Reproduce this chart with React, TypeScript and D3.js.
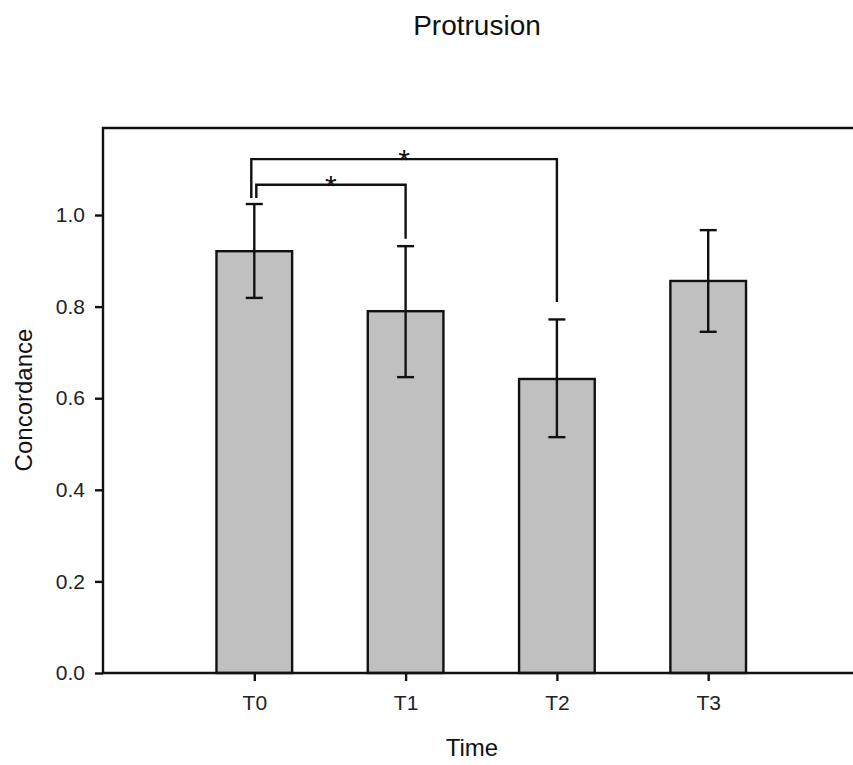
import React, { useRef, useEffect } from "react";
import * as d3 from "d3";

const categories = ["T0", "T1", "T2", "T3"];
const means = [0.921, 0.79, 0.642, 0.856];
const upperErr = [1.024, 0.932, 0.772, 0.967];
const lowerErr = [0.819, 0.646, 0.515, 0.745];
const yTicks = [0, 0.2, 0.4, 0.6, 0.8, 1.0];

// significance brackets: category indexes, bar level and where each leg stops
const bracketFrom = [0, 0];
const bracketTo = [1, 2];
const bracketLevel = [1.066, 1.122];
const bracketLeftEnd = [1.037, 1.037];
const bracketRightEnd = [0.948, 0.81];
const bracketLabel = ["*", "*"];

const FONT = "'Liberation Sans', Arial, Helvetica, sans-serif";

const App = () => {
  const svgRef = useRef<SVGSVGElement>(null);

  useEffect(() => {
    document.body.style.margin = "0";
    const width = 853;
    const height = 765;
    const margin = { top: 128, left: 103, bottom: 92 };
    const plotRight = 859.5;
    const plotBottom = height - margin.bottom;
    const sw = 2.4;

    d3.select(svgRef.current).selectAll("*").remove();
    const svg = d3
      .select(svgRef.current)
      .attr("width", width)
      .attr("height", height)
      .style("background", "#fff");

    const x = d3
      .scaleLinear()
      .domain([0, categories.length + 1])
      .range([margin.left, plotRight]);
    const y = d3.scaleLinear().domain([0, 1.19]).range([plotBottom, margin.top]);
    const step = x(1) - x(0);
    const barW = step * 0.5;

    // bars
    svg
      .selectAll(".bar")
      .data(means)
      .enter()
      .append("rect")
      .attr("class", "bar")
      .attr("x", (d, i) => x(i + 1) - barW / 2)
      .attr("y", (d) => y(d))
      .attr("width", barW)
      .attr("height", (d) => plotBottom - y(d))
      .attr("fill", "#c0c0c0")
      .attr("stroke", "#111")
      .attr("stroke-width", sw);

    // error bars
    const capW = 17;
    const eb = svg
      .selectAll(".err")
      .data(categories)
      .enter()
      .append("g")
      .attr("class", "err")
      .attr("stroke", "#111")
      .attr("stroke-width", sw);
    eb.append("line")
      .attr("x1", (d, i) => x(i + 1))
      .attr("x2", (d, i) => x(i + 1))
      .attr("y1", (d, i) => y(lowerErr[i]))
      .attr("y2", (d, i) => y(upperErr[i]));
    eb.append("line")
      .attr("x1", (d, i) => x(i + 1) - capW / 2)
      .attr("x2", (d, i) => x(i + 1) + capW / 2)
      .attr("y1", (d, i) => y(upperErr[i]))
      .attr("y2", (d, i) => y(upperErr[i]));
    eb.append("line")
      .attr("x1", (d, i) => x(i + 1) - capW / 2)
      .attr("x2", (d, i) => x(i + 1) + capW / 2)
      .attr("y1", (d, i) => y(lowerErr[i]))
      .attr("y2", (d, i) => y(lowerErr[i]));

    // frame: left, top, bottom
    svg
      .append("path")
      .attr(
        "d",
        `M${plotRight},${margin.top}H${margin.left}V${plotBottom}H${plotRight}`
      )
      .attr("fill", "none")
      .attr("stroke", "#111")
      .attr("stroke-width", sw);

    // axes
    const yAxis = d3
      .axisLeft(y)
      .tickValues(yTicks)
      .tickFormat(d3.format(".1f"))
      .tickSizeInner(8)
      .tickSizeOuter(0)
      .tickPadding(10);
    const gy = svg
      .append("g")
      .attr("transform", `translate(${margin.left},0)`)
      .call(yAxis);
    gy.select(".domain").remove();
    gy.selectAll("line").attr("stroke", "#111").attr("stroke-width", sw);
    gy.selectAll("text")
      .attr("font-family", FONT)
      .attr("font-size", 21)
      .attr("fill", "#222");

    const xAxis = d3
      .axisBottom(x)
      .tickValues(categories.map((c, i) => i + 1))
      .tickFormat((d) => categories[(d as number) - 1])
      .tickSizeInner(8)
      .tickSizeOuter(0)
      .tickPadding(14);
    const gx = svg
      .append("g")
      .attr("transform", `translate(0,${plotBottom})`)
      .call(xAxis);
    gx.select(".domain").remove();
    gx.selectAll("line").attr("stroke", "#111").attr("stroke-width", sw);
    gx.selectAll("text")
      .attr("font-family", FONT)
      .attr("font-size", 21)
      .attr("fill", "#222");

    // significance brackets
    const br = svg
      .selectAll(".bracket")
      .data(bracketLevel)
      .enter()
      .append("g")
      .attr("class", "bracket");
    const legOffset = [2, -3];
    br.append("path")
      .attr("d", (d, i) => {
        const x1 = x(bracketFrom[i] + 1) + legOffset[i];
        const x2 = x(bracketTo[i] + 1);
        return `M${x1},${y(bracketLeftEnd[i])}V${y(d)}H${x2}V${y(bracketRightEnd[i])}`;
      })
      .attr("fill", "none")
      .attr("stroke", "#111")
      .attr("stroke-width", sw);
    br.append("text")
      .attr("x", (d, i) => (x(bracketFrom[i] + 1) + legOffset[i] + x(bracketTo[i] + 1)) / 2)
      .attr("y", (d) => y(d) + 11)
      .attr("text-anchor", "middle")
      .attr("font-family", FONT)
      .attr("font-size", 30)
      .attr("fill", "#111")
      .text((d, i) => bracketLabel[i]);

    // titles
    svg
      .append("text")
      .attr("x", 477)
      .attr("y", 35)
      .attr("text-anchor", "middle")
      .attr("font-family", FONT)
      .attr("font-size", 28)
      .attr("fill", "#111")
      .text("Protrusion");
    svg
      .append("text")
      .attr("x", 472)
      .attr("y", 756)
      .attr("text-anchor", "middle")
      .attr("font-family", FONT)
      .attr("font-size", 24)
      .attr("fill", "#111")
      .text("Time");
    svg
      .append("text")
      .attr("transform", "translate(32,400) rotate(-90)")
      .attr("text-anchor", "middle")
      .attr("font-family", FONT)
      .attr("font-size", 24)
      .attr("fill", "#111")
      .text("Concordance");
  }, []);

  return (
    <div>
      <svg ref={svgRef} style={{ display: "block" }}></svg>
    </div>
  );
};

export default App;
